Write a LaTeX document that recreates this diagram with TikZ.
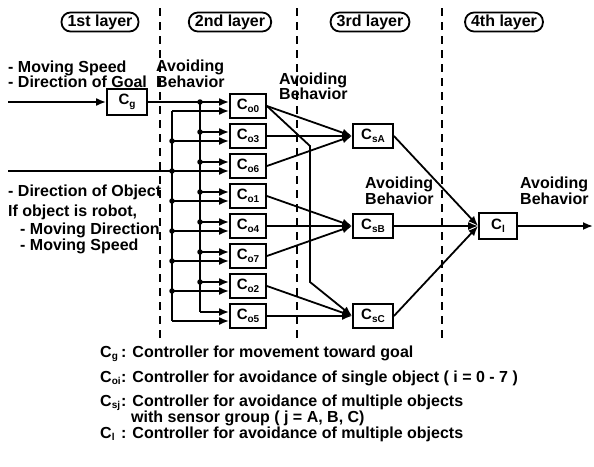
\documentclass[tikz,border=0pt]{standalone}
\usepackage{fontspec}
\setmainfont{Liberation Sans}
\usetikzlibrary{arrows.meta}

% controller symbol with a lowered subscript
\newcommand\csub[1]{C\raisebox{-0.35ex}{\fontsize{10}{10}\selectfont #1}}

\begin{document}
\begin{tikzpicture}[x=1pt,y=-1pt,
  every node/.style={font=\bfseries\fontsize{16}{16}\selectfont},
  ctrl/.style={draw, line width=1.8pt, minimum width=36pt, minimum height=24pt, inner sep=0pt,
               font=\bfseries\fontsize{15}{15}\selectfont},
  wire/.style={line width=1.8pt},
  arr/.style={wire, -{Latex[length=10pt,width=8pt]}},
  dot/.style={circle, fill, inner sep=0pt, minimum size=5.5pt},
  sep/.style={line width=1.8pt, dash pattern=on 8pt off 6pt},
  layer/.style={draw, line width=1.8pt, rounded corners=9pt, minimum height=19pt, inner xsep=6pt, inner ysep=0pt},
  txt/.style={anchor=base west, inner sep=0pt}
]
\useasboundingbox (0,0) rectangle (594,466);

% layer separators
\coordinate (d1t) at (160,8);  \coordinate (d1b) at (160,340);
\coordinate (d2t) at (297,8);  \coordinate (d2b) at (297,340);
\coordinate (d3t) at (442,8);  \coordinate (d3b) at (442,340);
\draw[sep] (d1t) -- (d1b);
\draw[sep] (d2t) -- (d2b);
\draw[sep] (d3t) -- (d3b);

% layer titles
\node[layer] (L1) at (100,22) {1st layer};
\node[layer] (L2) at (230,22) {2nd layer};
\node[layer] (L3) at (370,22) {3rd layer};
\node[layer] (L4) at (504,22) {4th layer};

% controllers
\node[ctrl, minimum width=40pt, minimum height=26pt] (cg) at (127,102) {\csub{g}};
\foreach \n/\y in {o0/106, o3/136, o6/166, o1/196, o4/226, o7/256, o2/286, o5/316}{
  \node[ctrl] (\n) at (248,\y) {\csub{\n}};
  \coordinate (a\n) at (200,{\y-4});
  \coordinate (b\n) at (172,{\y+5});
}
\node[ctrl, minimum width=40pt] (sA) at (373,136) {\csub{sA}};
\node[ctrl, minimum width=40pt] (sB) at (373,226) {\csub{sB}};
\node[ctrl, minimum width=40pt] (sC) at (373,316) {\csub{sC}};
\node[ctrl, minimum width=38pt, minimum height=26pt] (cl) at (498,226) {\csub{l}};

% inputs and output
\coordinate (in1) at (8,102);
\coordinate (in2) at (8,171);
\coordinate (out) at (593,226);
\draw[arr] (in1) -- (cg.west);
\draw[wire] (cg.east) -- (ao0);
\draw[wire] (in2) -- (bo6);

% distribution buses
\draw[wire] (ao0) -- (ao5);
\draw[wire] (bo0) -- (bo5);
\foreach \n in {o0, o3, o6, o1, o4, o7, o2, o5}{
  \draw[arr] (a\n) -- (a\n -| \n.west);
  \draw[arr] (b\n) -- (b\n -| \n.west);
}
\foreach \n in {o0, o3, o6, o1, o4, o7, o2}{
  \node[dot] at (a\n) {};
}
\foreach \n in {o3, o6, o1, o4, o7, o2}{
  \node[dot] at (b\n) {};
}

% 2nd layer -> 3rd layer
\foreach \a/\b in {o0/sA, o3/sA, o6/sA, o1/sB, o4/sB, o7/sB, o2/sC, o5/sC}{
  \draw[arr] (\a.east) -- (\b.west);
}
\coordinate (k1) at (310,146);
\coordinate (k2) at (310,282);
\draw[arr] (o0.east) -- (k1) -- (k2) -- (sC.west);

% 3rd layer -> 4th layer
\foreach \s in {sA, sB, sC}{
  \draw[arr] (\s.east) -- (cl.west);
}
\draw[arr] (cl.east) -- (out);

% signal labels
\node[txt] (g1) at (8,72) {- Moving Speed};
\node[txt] (g2) at (8,87) {- Direction of Goal};
\node[txt] (b1a) at (156,71) {Avoiding};
\node[txt] (b1b) at (156,87) {Behavior};
\node[txt] (b2a) at (279,84) {Avoiding};
\node[txt] (b2b) at (279,99) {Behavior};
\node[txt] (b3a) at (365,188) {Avoiding};
\node[txt] (b3b) at (365,204) {Behavior};
\node[txt] (b4a) at (520,188) {Avoiding};
\node[txt] (b4b) at (520,204) {Behavior};
\node[txt] (ob1) at (8,196) {- Direction of Object};
\node[txt] (ob2) at (8,216) {If object is robot,};
\node[txt] (ob3) at (20,234) {- Moving Direction};
\node[txt] (ob4) at (20,250) {- Moving Speed};

% legend
\node[txt] (k1s) at (100,357) {\csub{g}};
\node[txt] (k1t) at (121,357) {: Controller for movement toward goal};
\node[txt] (k2s) at (100,382) {\csub{oi}};
\node[txt] (k2t) at (121,382) {: Controller for avoidance of single object ( i = 0 - 7 )};
\node[txt] (k3s) at (100,406) {\csub{sj}};
\node[txt] (k3t) at (121,406) {: Controller for avoidance of multiple objects};
\node[txt] (k3u) at (131,422) {with sensor group ( j = A, B, C)};
\node[txt] (k4s) at (100,438) {\csub{l}};
\node[txt] (k4t) at (121,438) {: Controller for avoidance of multiple objects};
\end{tikzpicture}
\end{document}
